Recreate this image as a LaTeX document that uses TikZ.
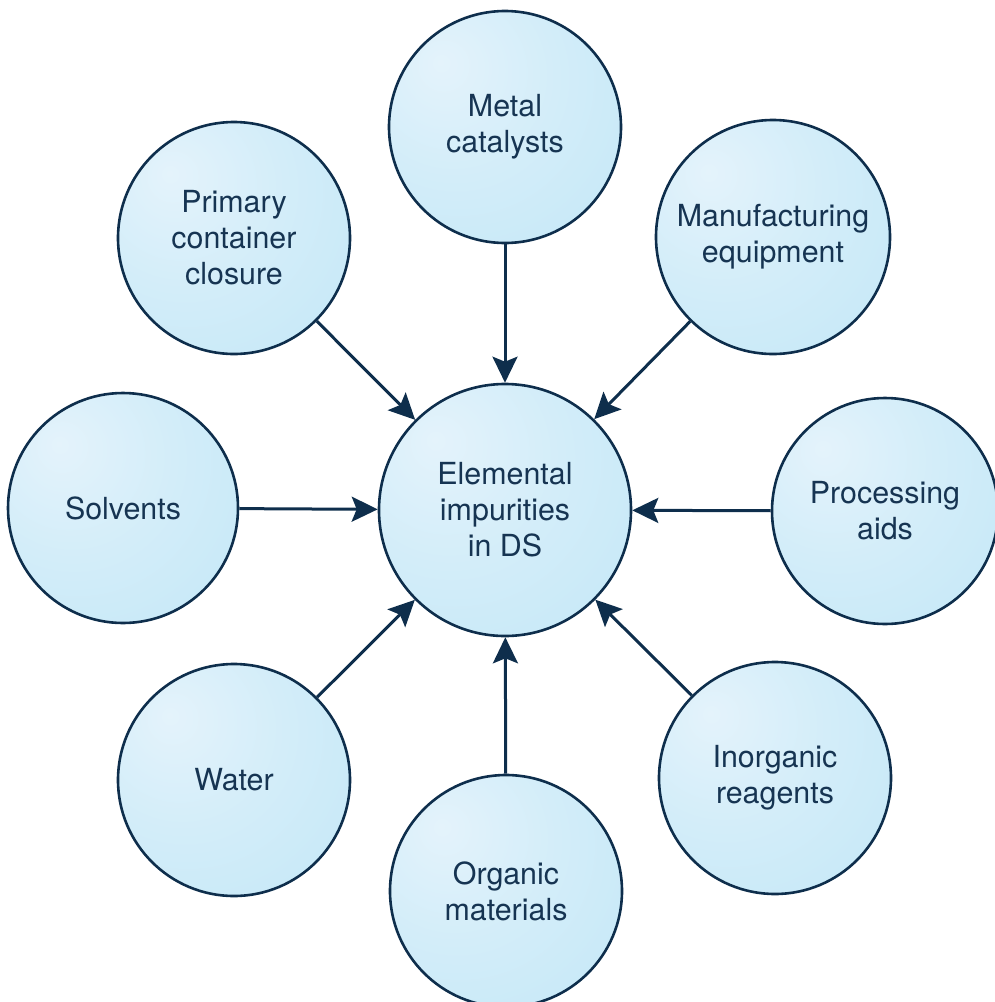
\documentclass[tikz,border=0pt]{standalone}
\usepackage{fontspec}
\setmainfont{TeX Gyre Heros}
\usetikzlibrary{arrows.meta}

\definecolor{navy}{RGB}{14,46,76}
\definecolor{inkblue}{RGB}{22,52,82}
\definecolor{bubbleHi}{RGB}{228,243,251}
\definecolor{bubbleLo}{RGB}{194,231,247}
\pgfdeclareradialshading{bubble}{\pgfpoint{-14bp}{14bp}}{%
  color(0bp)=(bubbleHi); color(22bp)=(bubbleHi!50!bubbleLo);
  color(50bp)=(bubbleLo); color(100bp)=(bubbleLo)}

\tikzset{
  source/.style={circle, draw=navy, line width=1.3pt, shading=bubble,
    inner sep=0pt, align=center, text=inkblue,
    font=\fontsize{15.2}{18}\selectfont},
  feed/.style={draw=navy, line width=1.5pt,
    -{Stealth[length=13pt,width=12.5pt,inset=2.5pt]}}
}

\begin{document}
\begin{tikzpicture}[x=0.5pt,y=-0.5pt]
\useasboundingbox (0,0) rectangle (995,1002);
% the central circle
\node[source, minimum size=126pt] (ds) at (505,510) {Elemental\\impurities\\in DS};
% the sources around it
\node[source, minimum size=116pt] (metal) at (505,127) {Metal\\catalysts};
\node[source, minimum size=116pt] (prim) at (234,238) {Primary\\container\\closure};
\node[source, minimum size=117pt] (manu) at (773,237) {Manufacturing\\equipment};
\node[source, minimum size=115pt] (solv) at (123,508) {Solvents};
\node[source, minimum size=113pt] (proc) at (885,511) {Processing\\aids};
\node[source, minimum size=116pt] (water) at (234,780) {Water};
\node[source, minimum size=116pt] (org) at (506,891) {Organic\\materials};
\node[source, minimum size=116pt] (inorg) at (775,778) {Inorganic\\reagents};
% arrows into DS
\foreach \src in {metal,prim,manu,solv,proc,water,org,inorg}
  \draw[feed] (\src) -- (ds);
\end{tikzpicture}
\end{document}
